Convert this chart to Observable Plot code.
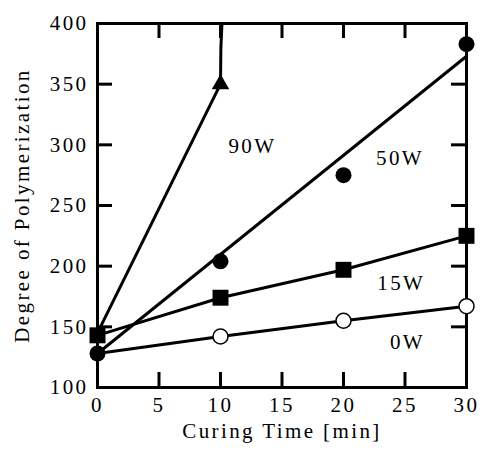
<!DOCTYPE html>
<html>
<head>
<meta charset="utf-8">
<script src="https://cdn.jsdelivr.net/npm/d3@7"></script>
<script src="https://cdn.jsdelivr.net/npm/@observablehq/plot@0.6"></script>
<style>
  html, body { margin: 0; padding: 0; background: #fff; }
</style>
</head>
<body>
<div id="chart"></div>
<script>
// Data
const time = [0, 10, 20, 30];
const dp0W = [128, 142, 155, 167];
const dp15W = [143, 174, 197, 225];
const dp50W = [128, 204, 275, 383];
const fit50Wx = [0, 30];
const fit50Wy = [128, 373];
const curve90Wx = [0, 10, 10.03, 10.12];
const curve90Wy = [145, 350, 380, 400];
const tri90Wx = [10];
const tri90Wy = [350];
const seriesLabels = ["90W", "50W", "15W", "0W"];
const labelX = [12.6, 24.6, 24.7, 25.2];
const labelY = [299, 289, 186, 137];
const xTicks = [0, 5, 10, 15, 20, 25, 30];
const yTicks = [100, 150, 200, 250, 300, 350, 400];
const xInner = [5, 10, 15, 20, 25];
const yInner = [150, 200, 250, 300, 350];

const rows = (xs, ys) => xs.map((x, i) => ({x, y: ys[i]}));
const s0 = rows(time, dp0W);
const s15 = rows(time, dp15W);
const s50 = rows(time, dp50W);
const f50 = rows(fit50Wx, fit50Wy);
const c90 = rows(curve90Wx, curve90Wy);
const p90 = rows(tri90Wx, tri90Wy);
const labs = seriesLabels.map((t, i) => ({t, x: labelX[i], y: labelY[i]}));

const W = 482, H = 451, mL = 97, mR = 16, mT = 23, mB = 64;
const innerW = W - mL - mR, innerH = H - mT - mB, tickLen = 15;
const FF = "Liberation Serif";
const FS = 21;

const chart = Plot.plot({
  width: W,
  height: H,
  marginLeft: mL,
  marginRight: mR,
  marginTop: mT,
  marginBottom: mB,
  style: "font-family: 'Liberation Serif', serif; letter-spacing: 2.4px; background: #fff; color: #000;",
  x: {domain: [0, 30]},
  y: {domain: [100, 400]},
  marks: [
    // tick labels and titles
    Plot.axisX({ticks: xTicks, tickSize: 0, tickPadding: 10, fontFamily: FF, fontSize: FS, label: "Curing Time [min]", labelAnchor: "center", labelArrow: "none", labelOffset: 50}),
    Plot.axisY({ticks: yTicks, tickSize: 0, tickPadding: 9, fontFamily: FF, fontSize: FS, label: "Degree of Polymerization", labelAnchor: "center", labelArrow: "none", labelOffset: 83}),
    // inward ticks on all four sides
    Plot.tickX(xInner, {x: d => d, stroke: "black", strokeWidth: 3, insetTop: innerH - tickLen}),
    Plot.tickX(xInner, {x: d => d, stroke: "black", strokeWidth: 3, insetBottom: innerH - tickLen}),
    Plot.tickY(yInner, {y: d => d, stroke: "black", strokeWidth: 3, insetRight: innerW - tickLen}),
    Plot.tickY(yInner, {y: d => d, stroke: "black", strokeWidth: 3, insetLeft: innerW - tickLen}),
    Plot.frame({stroke: "black", strokeWidth: 3}),
    // lines
    Plot.line(s0, {x: "x", y: "y", stroke: "black", strokeWidth: 3}),
    Plot.line(s15, {x: "x", y: "y", stroke: "black", strokeWidth: 3}),
    Plot.line(f50, {x: "x", y: "y", stroke: "black", strokeWidth: 3}),
    Plot.line(c90, {x: "x", y: "y", stroke: "black", strokeWidth: 3}),
    // markers
    Plot.dot(s0.slice(1), {x: "x", y: "y", r: 7.5, fill: "white", stroke: "black", strokeWidth: 1.5}),
    Plot.dot(s15, {x: "x", y: "y", symbol: "square", r: 9, fill: "black"}),
    Plot.dot(s50, {x: "x", y: "y", r: 8, fill: "black"}),
    Plot.dot(p90, {x: "x", y: "y", symbol: "triangle", r: 6.5, fill: "black"}),
    // series labels
    Plot.text(labs, {x: "x", y: "y", text: "t", textAnchor: "middle", fontFamily: FF, fontSize: FS})
  ]
});
document.getElementById("chart").appendChild(chart);
</script>
</body>
</html>
